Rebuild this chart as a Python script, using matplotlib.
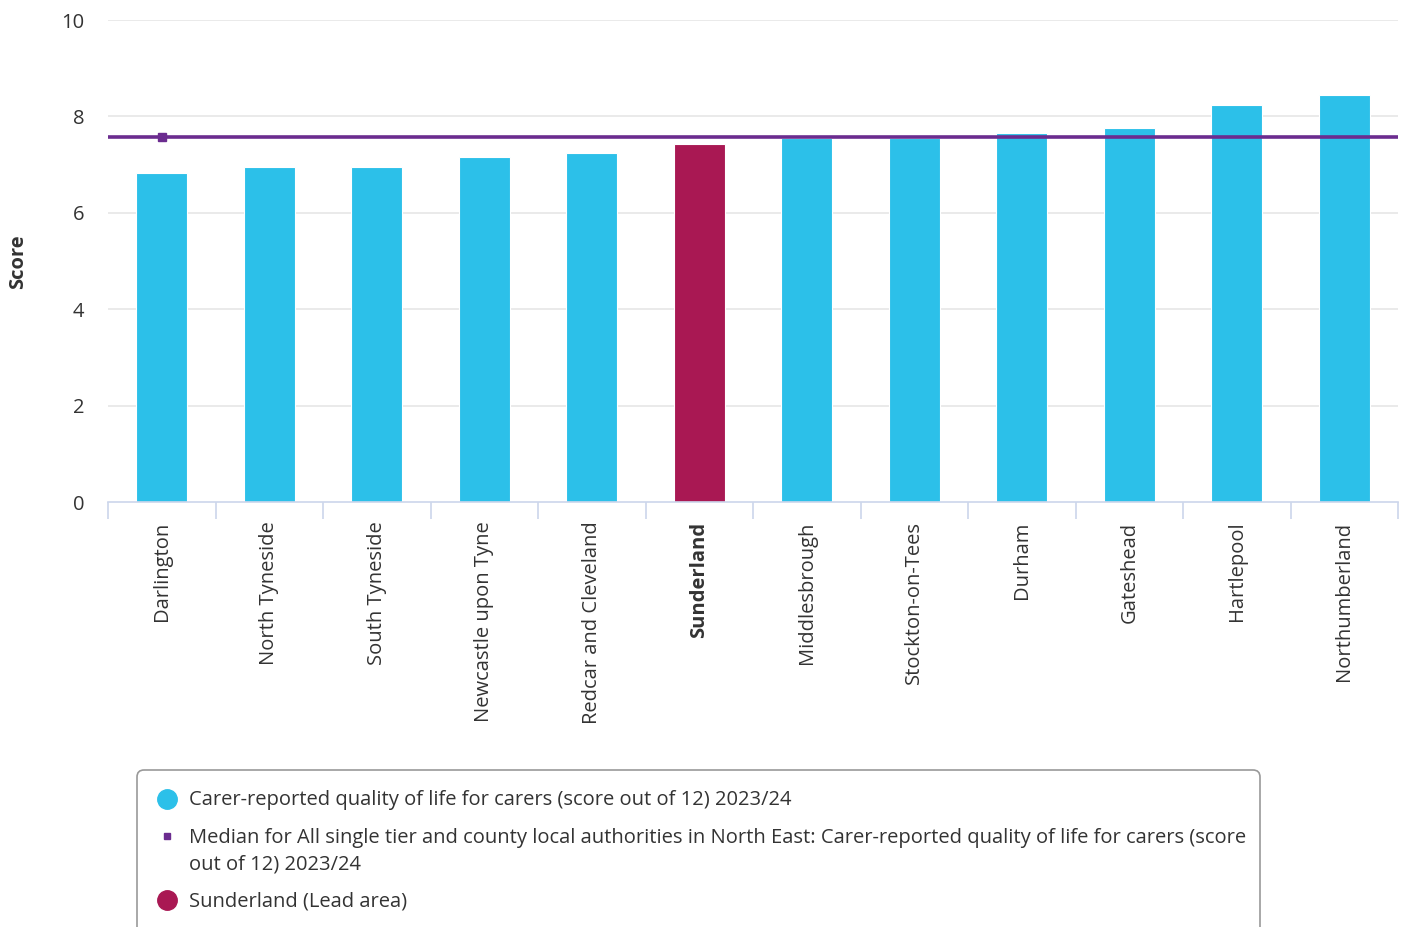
import matplotlib
matplotlib.use("Agg")
import matplotlib.pyplot as plt
from matplotlib.patches import FancyBboxPatch
from matplotlib.lines import Line2D

# Carer-reported quality of life for carers (score out of 12), 2023/24
areas = ["Darlington", "North Tyneside", "South Tyneside", "Newcastle upon Tyne",
         "Redcar and Cleveland", "Sunderland", "Middlesbrough", "Stockton-on-Tees",
         "Durham", "Gateshead", "Hartlepool", "Northumberland"]
scores = [6.83, 6.94, 6.94, 7.15, 7.25, 7.43, 7.55, 7.55, 7.65, 7.75, 8.23, 8.44]
median_score = 7.57
lead_area = "Sunderland"
y_ticks = [0, 2, 4, 6, 8, 10]

legend_labels = [
    "Carer-reported quality of life for carers (score out of 12) 2023/24",
    "Median for All single tier and county local authorities in North East: Carer-reported quality of life for carers (score\nout of 12) 2023/24",
    "Sunderland (Lead area)",
]

CYAN = "#2cc0e9"
LEAD = "#a91853"
PURPLE = "#6b2c8f"
TEXT = "#333333"
GRID = "#e6e6e6"
AXIS = "#ccd6eb"
FONT = "Open Sans"
FS = 14.5

W, H = 1406, 927
fig = plt.figure(figsize=(W / 100, H / 100), dpi=100)
plt.rcParams["font.family"] = [FONT, "DejaVu Sans"]


def fx(px):
    return px / W


def fy(py):
    return 1 - py / H


ax = fig.add_axes([fx(108), fy(502), fx(1398) - fx(108), fy(20) - fy(502)])
ax.set_xlim(-0.5, len(areas) - 0.5)
ax.set_ylim(0, 10)

x = list(range(len(areas)))
colors = [LEAD if a == lead_area else CYAN for a in areas]
ax.bar(x, scores, width=0.47, color=colors, edgecolor="white", linewidth=0.8, zorder=2)

# median reference line with its marker on the first category
ax.axhline(median_score, color=PURPLE, lw=2.6, zorder=3)
ax.plot([0], [median_score], marker="s", ms=5.5, color=PURPLE, zorder=4, linestyle="none")

# grid and axes styling
ax.set_yticks(y_ticks)
ax.set_yticklabels([str(t) for t in y_ticks])
for t in y_ticks[1:]:
    ax.axhline(t, color=GRID, lw=1.2, zorder=0)
for s in ["top", "right", "left"]:
    ax.spines[s].set_visible(False)
ax.spines["bottom"].set_color(AXIS)
ax.spines["bottom"].set_linewidth(1.2)
ax.tick_params(axis="y", length=0, pad=17, labelsize=FS, labelcolor=TEXT)

ax.set_xticks(x)
ax.set_xticklabels(areas, rotation=90, va="top", ha="center")
ax.set_xticks([i - 0.5 for i in range(len(areas) + 1)], minor=True)
ax.tick_params(axis="x", which="major", length=0, pad=14, labelsize=FS, labelcolor=TEXT)
ax.tick_params(axis="x", which="minor", length=12, width=1.2, color=AXIS)
for lbl in ax.get_xticklabels():
    if lbl.get_text() == lead_area:
        lbl.set_fontweight("bold")

fig.text(fx(18), fy(262), "Score", rotation=90, ha="center", va="center",
         fontsize=FS, fontweight="bold", color=TEXT)

# legend panel
box = FancyBboxPatch((fx(137), fy(945)), fx(1260) - fx(137), fy(770) - fy(945),
                     boxstyle="round,pad=0,rounding_size=0.005", mutation_aspect=W / H,
                     transform=fig.transFigure, facecolor="white", edgecolor="#999999",
                     linewidth=1.2, clip_on=False)
fig.add_artist(box)

legend_rows = [
    (799, "o", 14, CYAN, legend_labels[0], 800.5),
    (836, "s", 4.5, PURPLE, legend_labels[1], 851.5),
    (900, "o", 14, LEAD, legend_labels[2], 901.5),
]
for my, mk, ms, col, label, ty in legend_rows:
    fig.add_artist(Line2D([fx(167)], [fy(my)], marker=mk, markersize=ms, color=col,
                          linestyle="none", transform=fig.transFigure))
    fig.text(fx(189), fy(ty), label, ha="left", va="center", fontsize=FS,
             color=TEXT, linespacing=1.42)

fig.savefig("out.png", dpi=100, facecolor="white")
